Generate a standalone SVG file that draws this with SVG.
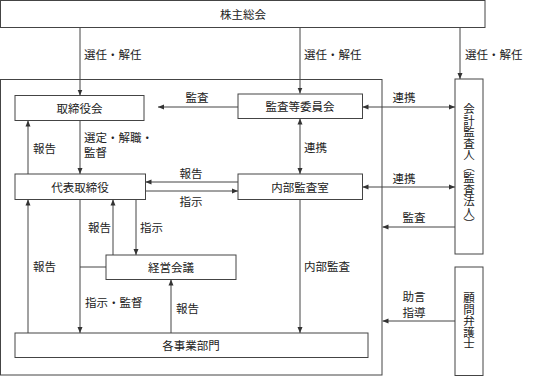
<svg xmlns="http://www.w3.org/2000/svg" width="533" height="376" viewBox="0 0 533 376">
<style>
.box{fill:#fff;stroke:#444;stroke-width:1}
.frame{fill:none;stroke:#444;stroke-width:1}
.ln{fill:none;stroke:#444;stroke-width:1}
text{font-family:"Noto Sans CJK JP","Noto Sans CJK SC",sans-serif;font-size:11.5px;fill:#222;dominant-baseline:central}
.c{text-anchor:middle}
.v{writing-mode:vertical-rl;text-anchor:middle}
</style>
<defs>
<marker id="ah" viewBox="0 0 6 6" refX="6" refY="3" markerWidth="6" markerHeight="6" orient="auto-start-reverse" markerUnits="userSpaceOnUse">
<path d="M0,0.5 L6,3 L0,5.5 Z" fill="#333"/>
</marker>
</defs>
<rect class="frame" x="0.5" y="79.5" width="381.5" height="295.5"/>
<g id="connectors">
<line class="ln" x1="80" y1="27.5" x2="80" y2="95.5" marker-end="url(#ah)"/>
<line class="ln" x1="300" y1="27.5" x2="300" y2="93.5" marker-end="url(#ah)"/>
<line class="ln" x1="460" y1="27.5" x2="460" y2="79" marker-end="url(#ah)"/>
<line class="ln" x1="238" y1="107" x2="158" y2="107" marker-end="url(#ah)"/>
<line class="ln" x1="362.5" y1="107" x2="455" y2="107" marker-start="url(#ah)" marker-end="url(#ah)"/>
<line class="ln" x1="80" y1="120.5" x2="80" y2="174" marker-end="url(#ah)"/>
<line class="ln" x1="28" y1="174" x2="28" y2="120.5" marker-end="url(#ah)"/>
<line class="ln" x1="300" y1="118.5" x2="300" y2="174" marker-start="url(#ah)" marker-end="url(#ah)"/>
<line class="ln" x1="238" y1="182" x2="145.5" y2="182" marker-end="url(#ah)"/>
<line class="ln" x1="145.5" y1="191" x2="238" y2="191" marker-end="url(#ah)"/>
<line class="ln" x1="362.5" y1="187" x2="455" y2="187" marker-start="url(#ah)" marker-end="url(#ah)"/>
<line class="ln" x1="455" y1="227" x2="382.5" y2="227" marker-end="url(#ah)"/>
<line class="ln" x1="28" y1="333" x2="28" y2="199.5" marker-end="url(#ah)"/>
<line class="ln" x1="80" y1="199.5" x2="80" y2="333" marker-end="url(#ah)"/>
<line class="ln" x1="80" y1="267" x2="106" y2="267"/>
<line class="ln" x1="113" y1="255" x2="113" y2="199.5" marker-end="url(#ah)"/>
<line class="ln" x1="136" y1="199.5" x2="136" y2="255" marker-end="url(#ah)"/>
<line class="ln" x1="171" y1="333" x2="171" y2="279.5" marker-end="url(#ah)"/>
<line class="ln" x1="300" y1="199.5" x2="300" y2="333" marker-end="url(#ah)"/>
<line class="ln" x1="455" y1="321" x2="382.5" y2="321" marker-end="url(#ah)"/>
</g>
<g id="labels">
<text x="84" y="54">選任・解任</text>
<text x="304" y="54">選任・解任</text>
<text x="465" y="54">選任・解任</text>
<text class="c" x="197" y="97">監査</text>
<text class="c" x="404" y="97">連携</text>
<text x="84" y="137">選定・解職・</text>
<text x="84" y="152">監督</text>
<text x="33" y="148">報告</text>
<text x="304" y="147">連携</text>
<text class="c" x="191" y="173">報告</text>
<text class="c" x="191" y="201">指示</text>
<text class="c" x="404" y="178">連携</text>
<text class="c" x="414" y="217">監査</text>
<text x="88" y="227">報告</text>
<text x="140" y="227">指示</text>
<text x="33" y="266">報告</text>
<text x="85" y="302">指示・監督</text>
<text x="176" y="308">報告</text>
<text x="304" y="266">内部監査</text>
<text class="c" x="414" y="295.5">助言</text>
<text class="c" x="414" y="312">指導</text>
</g>
<g id="n-shareholders">
<rect class="box" x="0.5" y="0.5" width="484.5" height="27"/>
<text class="c" x="243" y="14">株主総会</text>
</g>
<g id="n-board">
<rect class="box" x="15" y="95.5" width="129" height="25"/>
<text class="c" x="79.5" y="108">取締役会</text>
</g>
<g id="n-audit-committee">
<rect class="box" x="238" y="94" width="124.5" height="24.5"/>
<text class="c" x="300" y="106">監査等委員会</text>
</g>
<g id="n-ceo">
<rect class="box" x="15" y="174" width="130.5" height="25.5"/>
<text class="c" x="80" y="187">代表取締役</text>
</g>
<g id="n-internal-audit">
<rect class="box" x="238" y="174" width="124.5" height="25.5"/>
<text class="c" x="300" y="187">内部監査室</text>
</g>
<g id="n-management-meeting">
<rect class="box" x="106" y="255" width="130" height="24.5"/>
<text class="c" x="171" y="267">経営会議</text>
</g>
<g id="n-departments">
<rect class="box" x="15" y="333" width="353" height="24.5"/>
<text class="c" x="191" y="345">各事業部門</text>
</g>
<g id="n-auditor">
<rect class="box" x="455" y="79" width="28" height="175"/>
<text class="v" x="469" y="166.5">会計監査人（監査法人）</text>
</g>
<g id="n-lawyer">
<rect class="box" x="455" y="267" width="28" height="108.5"/>
<text class="v" x="469" y="321">顧問弁護士</text>
</g>
</svg>
